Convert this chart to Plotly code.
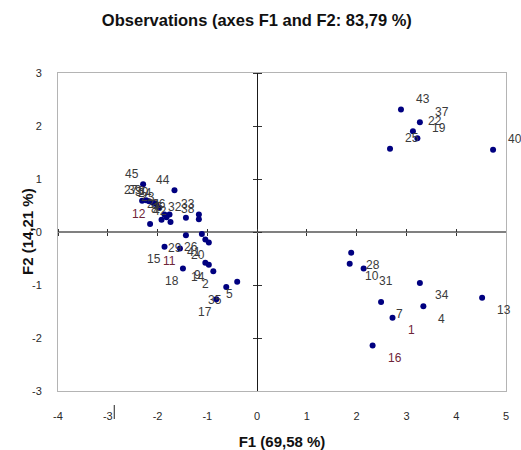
import plotly.graph_objects as go

# Observation ids and their factor scores on F1 / F2
obs = [str(i) for i in range(1, 46)]
f1 = [2.72, -0.88, -2.17, 3.34, -0.40, -1.82, 2.49, -1.92, -1.04, 1.86,
      -1.55, -2.15, 4.52, -0.97, -1.86, 2.32, -0.82, -1.49, 3.22, -0.97,
      -1.86, 3.13, -1.97, -2.03, 2.67, -1.11, -2.31, 1.89, -1.43, -2.09,
      2.14, -1.43, -1.17, 3.27, -0.62, -1.76, 3.27, -1.17, -2.23, 4.74,
      -1.04, -1.74, 2.89, -1.66, -2.29]
f2 = [-1.62, -0.74, 0.58, -1.40, -0.94, 0.28, -1.32, 0.23, -0.58, -0.60,
      -0.31, 0.15, -1.24, -0.62, -0.28, -2.14, -1.27, -0.69, 1.77, -0.20,
      0.33, 1.90, 0.46, 0.53, 1.57, -0.04, 0.59, -0.39, -0.06, 0.55,
      -0.69, 0.27, 0.33, -0.96, -1.04, 0.33, 2.07, 0.24, 0.60, 1.55,
      -0.14, 0.19, 2.31, 0.79, 0.90]

x_ticks = list(range(-4, 6))
y_ticks = list(range(-3, 4))

FONT = "Liberation Sans, Arial, sans-serif"
TEXT = "#2a2a2a"
LABEL_GREY = "#3a3a3a"
LABEL_ACCENT = {"1": "#6e2438", "11": "#6e2438", "12": "#6e2438", "16": "#6e2438"}

MARGIN = dict(l=58, r=15, t=73, b=59)
W, H = 521, 450
plot_w = W - MARGIN["l"] - MARGIN["r"]
plot_h = H - MARGIN["t"] - MARGIN["b"]

fig = go.Figure()

fig.add_trace(go.Scatter(
    x=f1, y=f2, mode="markers",
    marker=dict(color="#000080", size=6, line=dict(width=0)),
    showlegend=False, hoverinfo="skip",
))

# empty traces so the overlay axes (zero lines with cross ticks) get drawn
for xa, ya in [("x2", "y"), ("x3", "y"), ("x", "y2"), ("x", "y3")]:
    fig.add_trace(go.Scatter(x=[None], y=[None], xaxis=xa, yaxis=ya,
                             showlegend=False, hoverinfo="skip"))

# point labels pushed outward from the origin, by quadrant
for lab, x, y in zip(obs, f1, f2):
    right = x >= 0
    up = y >= 0
    fig.add_annotation(
        x=x, y=y, text=lab, showarrow=False,
        xanchor="left" if right else "right", yanchor="middle",
        xshift=13 if right else -2, yshift=10.5 if up else -12.5,
        font=dict(family=FONT, size=12, color=LABEL_ACCENT.get(lab, LABEL_GREY)),
    )

# vertical axis title, set close to the tick labels
fig.add_annotation(
    xref="paper", yref="paper", x=-31 / plot_w, y=0.5,
    text="<b>F2 (14,21 %)</b>", textangle=-90, showarrow=False,
    xanchor="center", yanchor="middle",
    font=dict(family=FONT, size=15, color="#111111"),
)

# small divider next to the -3 tick label
fig.add_shape(type="line", xref="x", yref="paper",
              x0=-2.87, x1=-2.87, y0=-14 / plot_h, y1=-28 / plot_h,
              line=dict(color="#222222", width=1))

common = dict(showgrid=False, zeroline=False, fixedrange=True, automargin=False)

fig.update_layout(
    width=W, height=H,
    margin=MARGIN,
    paper_bgcolor="white", plot_bgcolor="white",
    font=dict(family=FONT, color=TEXT),
    title=dict(text="<b>Observations (axes F1 and F2: 83,79 %)</b>",
               x=0.493, xref="container", xanchor="center",
               y=1 - 20 / H, yref="container", yanchor="middle",
               font=dict(size=16.5, color="#111111")),
    xaxis=dict(range=[-4, 5], tickvals=x_ticks, ticktext=[str(v) for v in x_ticks],
               showline=True, mirror=True, linecolor="#b4b4b4", linewidth=1,
               ticks="", ticklabelstandoff=15,
               tickfont=dict(size=11, color=TEXT),
               title=dict(text="<b>F1 (69,58 %)</b>", font=dict(size=15, color="#111111"),
                          standoff=18),
               **common),
    yaxis=dict(range=[-3, 3], tickvals=y_ticks, ticktext=[str(v) for v in y_ticks],
               showline=True, mirror=True, linecolor="#b4b4b4", linewidth=1,
               ticks="", ticklabelstandoff=13,
               tickfont=dict(size=11, color=TEXT),
               **common),
    # horizontal zero line with ticks crossing it
    xaxis2=dict(overlaying="x", matches="x", anchor="free", position=0.5,
                range=[-4, 5], tickvals=x_ticks, showticklabels=False,
                showline=True, linecolor="#808080", linewidth=1.6,
                ticks="outside", ticklen=3, tickwidth=1, tickcolor="#333333",
                layer="below traces", **common),
    xaxis3=dict(overlaying="x", matches="x", anchor="free", position=0.5,
                range=[-4, 5], tickvals=x_ticks, showticklabels=False,
                showline=False, side="top",
                ticks="outside", ticklen=3, tickwidth=1, tickcolor="#333333",
                layer="below traces", **common),
    # vertical zero line with ticks crossing it
    yaxis2=dict(overlaying="y", matches="y", anchor="free", position=4 / 9,
                range=[-3, 3], tickvals=y_ticks, showticklabels=False,
                showline=True, linecolor="#1a1a1a", linewidth=1.2,
                ticks="outside", ticklen=4, tickwidth=1, tickcolor="#333333",
                layer="below traces", **common),
    yaxis3=dict(overlaying="y", matches="y", anchor="free", position=4 / 9,
                range=[-3, 3], tickvals=y_ticks, showticklabels=False,
                showline=False, side="right",
                ticks="outside", ticklen=4, tickwidth=1, tickcolor="#333333",
                layer="below traces", **common),
)

fig.write_html("out.html")
